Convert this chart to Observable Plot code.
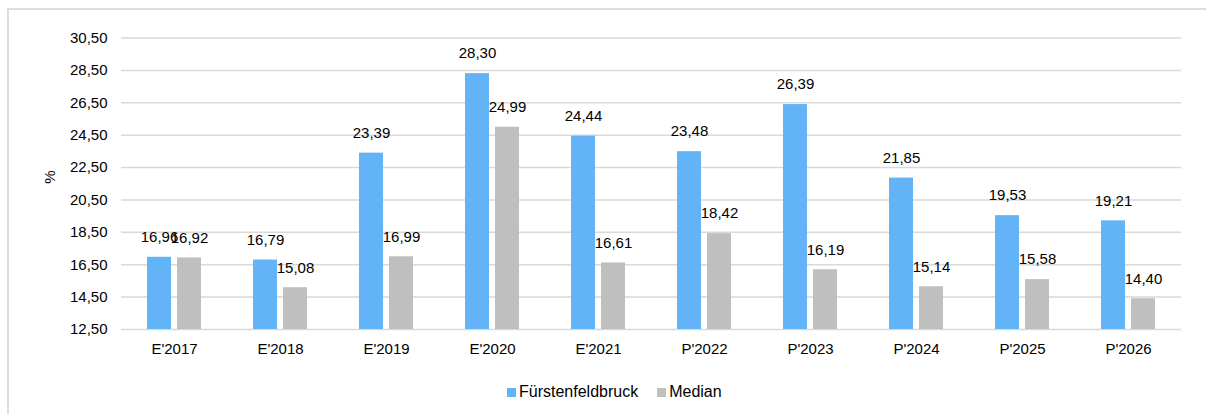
<!DOCTYPE html>
<html>
<head>
<meta charset="utf-8">
<script src="https://cdn.jsdelivr.net/npm/d3@7"></script>
<script src="https://cdn.jsdelivr.net/npm/@observablehq/plot@0.6"></script>
<style>
  html, body { margin: 0; padding: 0; width: 1206px; height: 414px; overflow: hidden; background: #fff; }
  body { position: relative; font-family: "Liberation Sans", Arial, sans-serif; color: #000; }
  #frame { position: absolute; left: 7px; top: 8px; width: 1300px; height: 500px; border: 2px solid #dedede; box-sizing: border-box; }
  #chart { position: absolute; left: 0; top: 0; }
  #legend { position: absolute; left: 507px; top: 383px; display: flex; align-items: center; font-size: 16px; white-space: nowrap; }
  #legend .sw { display: inline-block; width: 9px; height: 9px; margin-right: 3px; }
  #legend .item { display: flex; align-items: center; margin-right: 19px; }
</style>
</head>
<body>
<div id="frame"></div>
<div id="chart"></div>
<div id="legend"></div>
<script>
const categories = ["E'2017", "E'2018", "E'2019", "E'2020", "E'2021", "P'2022", "P'2023", "P'2024", "P'2025", "P'2026"];
const seriesNames = ["Fürstenfeldbruck", "Median"];
const fuerstenfeldbruck = [16.96, 16.79, 23.39, 28.30, 24.44, 23.48, 26.39, 21.85, 19.53, 19.21];
const median = [16.92, 15.08, 16.99, 24.99, 16.61, 18.42, 16.19, 15.14, 15.58, 14.40];
const yTicks = [12.5, 14.5, 16.5, 18.5, 20.5, 22.5, 24.5, 26.5, 28.5, 30.5];
const colors = ["#63b4f6", "#bfbfbf"];

const rows = [];
categories.forEach((c, i) => {
  rows.push({cat: c, series: seriesNames[0], value: fuerstenfeldbruck[i]});
  rows.push({cat: c, series: seriesNames[1], value: median[i]});
});
const fmt = v => d3.format(".2f")(v).replace(".", ",");

const chart = Plot.plot({
  width: 1206,
  height: 370,
  marginLeft: 120,
  marginRight: 24,
  marginTop: 37.5,
  marginBottom: 41,
  style: {fontFamily: "'Liberation Sans', Arial, sans-serif", fontSize: "15px", color: "#000", background: "transparent"},
  fx: {domain: categories, padding: 0, axis: null, label: null},
  x: {domain: seriesNames, paddingInner: 0.215, paddingOuter: 0.86, axis: null},
  y: {domain: [12.5, 30.5], axis: null},
  color: {domain: seriesNames, range: colors},
  marks: [
    Plot.ruleY(yTicks, {stroke: "#d9d9d9", strokeWidth: 1.5}),
    Plot.barY(rows, {fx: "cat", x: "series", y1: 12.5, y2: "value", fill: "series"}),
    Plot.text(rows, {fx: "cat", x: "series", y: "value", text: d => fmt(d.value), dy: -20, fill: "#000", fontSize: 15}),
    Plot.axisY({ticks: yTicks, tickFormat: fmt, tickSize: 0, tickPadding: 14, label: null, fontSize: 15}),
    Plot.axisFx({anchor: "bottom", tickSize: 0, tickPadding: 14, label: null, fontSize: 15}),
    Plot.text([{cat: categories[0]}], {fx: "cat", text: () => "%", frameAnchor: "left", rotate: -90, dx: -71, fill: "#000", fontSize: 15})
  ]
});
document.getElementById("chart").appendChild(chart);

const legend = document.getElementById("legend");
seriesNames.forEach((s, i) => {
  const item = document.createElement("span");
  item.className = "item";
  const sw = document.createElement("span");
  sw.className = "sw";
  sw.style.background = colors[i];
  const t = document.createElement("span");
  t.textContent = s;
  item.appendChild(sw);
  item.appendChild(t);
  legend.appendChild(item);
});
</script>
</body>
</html>
